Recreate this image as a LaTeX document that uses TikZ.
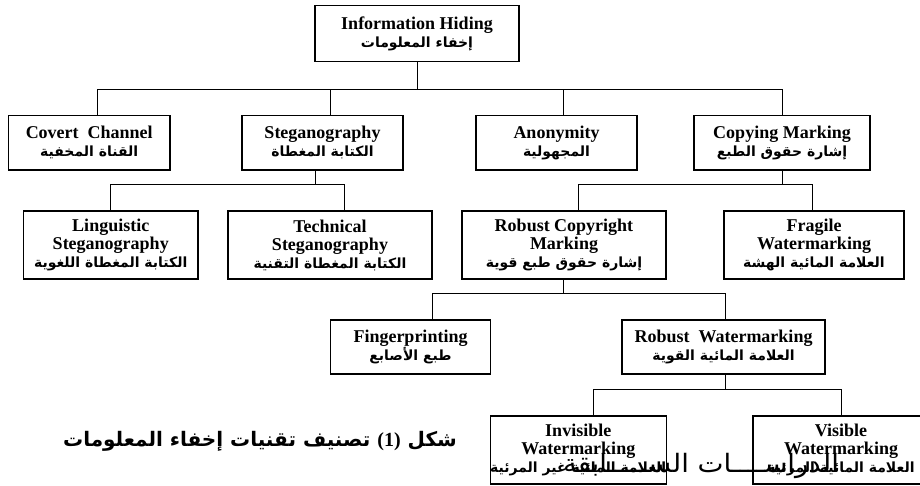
\documentclass[tikz,border=0pt]{standalone}
\usepackage{fontspec}
\usepackage{graphicx}
\setmainfont{Liberation Serif}
\newfontfamily\arabicfont[Script=Arabic]{DejaVu Sans}
\TeXXeTstate=1
\usetikzlibrary{calc}

% English labels: bold serif; Arabic labels: bold Arabic, right to left
\newcommand\boxfont{\fontsize{13.5}{13.5}\selectfont\bfseries}
\newcommand\arline[1]{{\arabicfont\fontsize{10.5}{13.5}\selectfont\bfseries\beginR #1\endR}}

\tikzset{
  px/.style={x=0.75pt,y=-0.75pt},
  box/.style={draw, line width=0.8pt, inner sep=0pt, align=center, font=\boxfont},
  size/.style 2 args={minimum width=#1*0.75pt, minimum height=#2*0.75pt},
  link/.style={line width=0.75pt},
}

\begin{document}
\begin{tikzpicture}[px]
\useasboundingbox (0,0) rectangle (920,485);
\fill[white] (0,0) rectangle (920,485);
\clip (0,0) rectangle (920,485);

% ---- level 0
\node[box, size={204}{56}] (ih) at (417,33.5)
  {Information Hiding\\\arline{إخفاء المعلومات}};

% ---- level 1
\node[box, size={161.5}{54.5}] (cc) at (89.25,142.75)
  {Covert~~Channel\\\arline{القناة المخفية}};
\node[box, size={161}{54.5}] (st) at (322.5,142.75)
  {Steganography\\\arline{الكتابة المغطاة}};
\node[box, size={161}{54.5}] (an) at (556.5,142.75)
  {Anonymity\\\arline{المجهولية}};
\node[box, size={176}{54.5}] (cm) at (782,142.75)
  {Copying Marking\\\arline{إشارة حقوق الطبع}};

% ---- level 2
\node[box, size={174.5}{68}] (li) at (110.75,245)
  {Linguistic\\Steganography\\\arline{الكتابة المغطاة اللغوية}};
\node[box, size={204}{68}] (te) at (330,245)
  {Technical\\Steganography\\\arline{الكتابة المغطاة التقنية}};
\node[box, size={204}{68}] (rc) at (564,245)
  {Robust Copyright\\Marking\\\arline{إشارة حقوق طبع قوية}};
\node[box, size={180}{68}] (fr) at (814,245)
  {Fragile\\Watermarking\\\arline{العلامة المائية الهشة}};

% ---- level 3
\node[box, size={160}{54}] (fp) at (410.5,347)
  {Fingerprinting\\\arline{طبع الأصابع}};
\node[box, size={203}{54}] (rw) at (723.5,347)
  {Robust~~Watermarking\\\arline{العلامة المائية القوية}};

% ---- level 4
\node[box, size={173.5}{68}] (iw) at (578.25,450)
  {Invisible\\Watermarking\\\arline{العلامة المائية غير المرئية}};
\node[box, size={176}{68}] (vw) at (841,450)
  {Visible\\Watermarking\\\arline{العلامة المائية المرئية}};

% ---- connectors
\coordinate (j0) at ($(ih.south)+(0,27)$);
\coordinate (tcc) at ($(cc.north)+(7.75,0)$);
\coordinate (tst) at ($(st.north)+(7.5,0)$);
\coordinate (tan) at ($(an.north)+(6.5,0)$);
\draw[link] (ih.south) -- (j0);
\draw[link] (tcc) |- (j0) -| (cm.north);
\draw[link] (tst) -- (tst |- j0);
\draw[link] (tan) -- (tan |- j0);

\coordinate (bst) at ($(st.south)+(-7,0)$);
\coordinate (j1) at ($(bst)+(0,13.5)$);
\coordinate (tte) at ($(te.north)+(14.5,0)$);
\draw[link] (bst) -- (j1);
\draw[link] (li.north) |- (j1) -| (tte);

\coordinate (j2) at ($(cm.south)+(0,13.5)$);
\coordinate (trc) at ($(rc.north)+(14,0)$);
\coordinate (tfr) at ($(fr.north)+(-2,0)$);
\draw[link] (cm.south) -- (j2);
\draw[link] (trc) |- (j2) -| (tfr);

\coordinate (brc) at ($(rc.south)+(-0.5,0)$);
\coordinate (j3) at ($(brc)+(0,13.5)$);
\coordinate (tfp) at ($(fp.north)+(22,0)$);
\coordinate (trw) at ($(rw.north)+(1.5,0)$);
\draw[link] (brc) -- (j3);
\draw[link] (tfp) |- (j3) -| (trw);

\coordinate (brw) at ($(rw.south)+(1.5,0)$);
\coordinate (j4) at ($(brw)+(0,15)$);
\coordinate (tiw) at ($(iw.north)+(15,0)$);
\draw[link] (brw) -- (j4);
\draw[link] (tiw) |- (j4) -| (vw.north);

% ---- figure caption
\node[font={\arabicfont\fontsize{15}{18}\selectfont\bfseries}] (cap) at (260,441)
  {\beginR شكل \beginL{\rmfamily\bfseries(1)}\endL{} تصنيف تقنيات إخفاء  المعلومات\endR};

% ---- running heading printed across the bottom boxes
\node[font={\arabicfont\fontsize{19}{22}\selectfont}, inner sep=0pt] (run) at (701,466)
  {\resizebox{207pt}{\height}{\beginR الدراســــات الســـــابقة\endR}};
\end{tikzpicture}
\end{document}
